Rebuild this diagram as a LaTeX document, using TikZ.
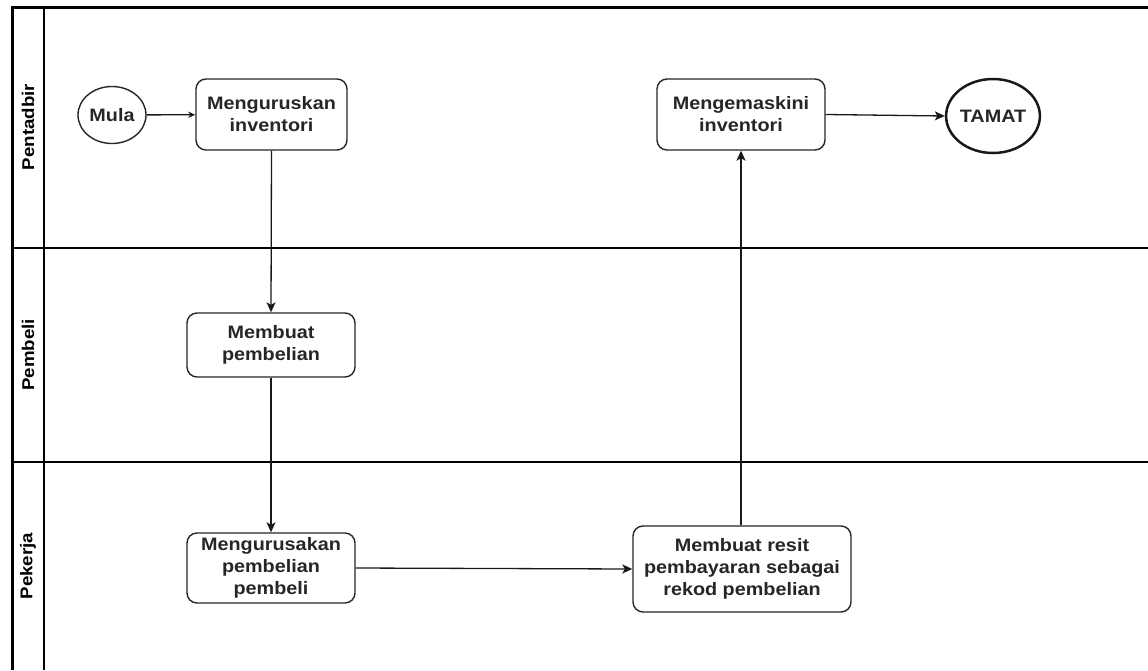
\documentclass[tikz,border=0pt]{standalone}
\usepackage{fontspec}
\setmainfont{Liberation Sans}[FakeStretch=1.1]
\usetikzlibrary{arrows.meta,shapes.geometric}
\begin{document}
\begin{tikzpicture}[x=1pt,y=-1pt,
  every node/.style={font=\fontsize{18}{22}\selectfont\bfseries, text=black!85},
  box/.style={draw=black!85, line width=1.4pt, rounded corners=10pt, align=center, inner sep=0pt},
  lane/.style={rotate=90, font=\fontsize{17}{20}\selectfont\bfseries, text=black},
  arr/.style={-{Stealth[length=10pt,width=9pt,inset=2.5pt]}, line width=1.3pt, draw=black!90},
  sarr/.style={-{Stealth[length=7pt,width=6pt,inset=2pt]}, line width=1.3pt, draw=black!90}
]
\useasboundingbox (0,0) rectangle (1148,670);
\fill[white] (0,0) rectangle (1148,670);
% frame
\draw[line width=3pt] (12,670) -- (12,7) -- (1148,7);
\draw[line width=1.4pt] (44,7) -- (44,670);
\draw[line width=1.4pt] (12,248) -- (1148,248);
\draw[line width=1.4pt] (12,462) -- (1148,462);
% lane labels
\node[lane] (l1) at (28,127) {Pentadbir};
\node[lane] (l2) at (28,355) {Pembeli};
\node[lane] (l3) at (28,566) {Pekerja};
% nodes
\node[draw=black!85, line width=1.4pt, ellipse, minimum width=68pt, minimum height=57pt, inner sep=0pt] (mula) at (112,115) {Mula};
\node[box, minimum width=151pt, minimum height=71pt] (urus) at (271.5,114.5) {Menguruskan\\inventori};
\node[box, minimum width=168pt, minimum height=71pt] (kemas) at (741,114.5) {Mengemaskini\\inventori};
\node[draw=black!90, line width=2.5pt, ellipse, minimum width=86pt, minimum height=74pt, inner sep=0pt] (tamat) at (993,116) {TAMAT};
\node[box, minimum width=168pt, minimum height=64pt] (beli) at (271,345) {Membuat\\pembelian};
\node[box, minimum width=168pt, minimum height=70pt] (urusb) at (271,568) {Mengurusakan\\pembelian\\pembeli};
\node[box, minimum width=218pt, minimum height=86pt] (resit) at (742,569) {Membuat resit\\pembayaran sebagai\\rekod pembelian};
% connectors
\draw[sarr] (mula) -- (urus);
\draw[arr] (urus.south) -- (beli.north);
\draw[arr] (beli.south) -- (urusb.north);
\draw[arr] (urusb.east) -- (resit.west);
\draw[arr] (resit.north -| kemas.south) -- (kemas.south);
\draw[arr] (kemas.east) -- (tamat.west);
\end{tikzpicture}
\end{document}
